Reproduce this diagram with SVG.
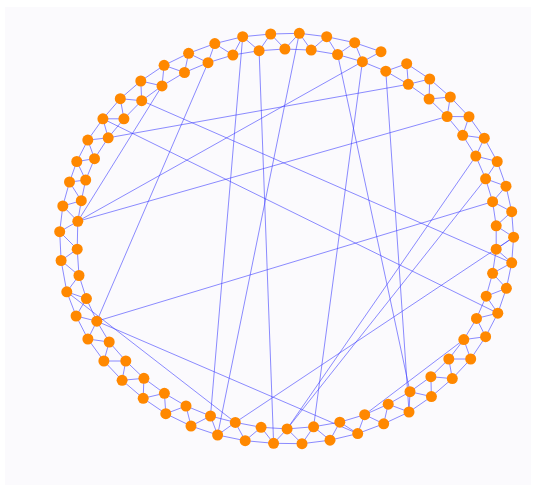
<svg xmlns="http://www.w3.org/2000/svg" width="536" height="487" viewBox="0 0 536 487">
<style>
.bg{fill:#fbfafd}
.e{fill:none;stroke:#3a3aff;stroke-opacity:0.65;stroke-width:0.9;stroke-linejoin:round}
.n{fill:#ff8800}
</style>
<rect width="536" height="487" fill="#ffffff"/>
<rect class="bg" x="5" y="7" width="526" height="478"/>
<g id="connectors">
<path id="outer-ring" class="e" d="M406.7,63.7 L429.7,79 L450.3,97 L469,116.7 L484.3,138.2 L497.2,161.5 L506,186.2 L511.7,211.7 L513.6,237.2 L511.7,262.8 L506.4,288.3 L497.8,313.2 L485.6,336.7 L470.7,359 L452.3,378.6 L431.4,396.6 L409,412 L383.7,423.8 L357.7,433.6 L330,440.2 L302,443.7 L273.6,443.3 L245.2,440.7 L217.6,435 L191,426 L165.8,413.7 L143.2,398.3 L122.1,380.3 L103.9,361 L87.9,339 L76.1,316 L66.8,291.8 L61.1,260.5 L59.7,231.7 L62.8,206 L69.5,182 L76.8,161.5 L87.8,140.1 L102.9,118.8 L120.3,98.7 L140.8,81 L164.1,65.3 L188.6,53.3 L214.8,43.6 L242.7,36.7 L270.7,34 L299.3,33.3 L326.7,36.7 L354.7,42.7 L381,51.7"/>
<path id="inner-ring" class="e" d="M232.9,55 L259.1,50.7 L284.9,49 L311.2,50.1 L337.6,54.5 L362.4,61.7 L385.8,71.2 L408.3,84.3 L429.1,99 L447.1,116.5 L462.7,135.3 L475.8,156.1 L485.6,178.8 L492.6,201.7 L496.2,225.8 L496.2,249.2 L492.6,273.3 L486.2,296.2 L476.5,318.4 L463.8,339.6 L448.8,359 L430.9,376.7 L410,391.7 L388.2,404.2 L364.7,414.7 L339.8,422.2 L313.6,426.8 L287.1,428.9 L261.1,427.3 L235.3,422.4 L210.5,416 L186,406 L164.4,393.3 L143.9,378.3 L125.8,361 L109.2,342 L96.8,321.2 L86.4,298.6 L79,275.5 L77.2,249.2 L77.8,221.3 L81.3,200.7 L85.7,180 L94.5,158.7 L108.2,137.8 L123.9,118.8 L141.7,100.7 L162,85.9 L184.5,72.5 L208,62.7 Z"/>
<path id="zigzag" class="e" d="M385.8,71.2 L406.7,63.7 L408.3,84.3 L429.7,79 L429.1,99 L450.3,97 L447.1,116.5 L469,116.7 L462.7,135.3 L484.3,138.2 L475.8,156.1 L497.2,161.5 L485.6,178.8 L506,186.2 L492.6,201.7 L511.7,211.7 L496.2,225.8 L513.6,237.2 L496.2,249.2 L511.7,262.8 L492.6,273.3 L506.4,288.3 L486.2,296.2 L497.8,313.2 L476.5,318.4 L485.6,336.7 L463.8,339.6 L470.7,359 L448.8,359 L452.3,378.6 L430.9,376.7 L431.4,396.6 L410,391.7 L409,412 L388.2,404.2 L383.7,423.8 L364.7,414.7 L357.7,433.6 L339.8,422.2 L330,440.2 L313.6,426.8 L302,443.7 L287.1,428.9 L273.6,443.3 L261.1,427.3 L245.2,440.7 L235.3,422.4 L217.6,435 L210.5,416 L191,426 L186,406 L165.8,413.7 L164.4,393.3 L143.2,398.3 L143.9,378.3 L122.1,380.3 L125.8,361 L103.9,361 L109.2,342 L87.9,339 L96.8,321.2 L76.1,316 L86.4,298.6 L66.8,291.8 L79,275.5 L61.1,260.5 L77.2,249.2 L59.7,231.7 L77.8,221.3 L62.8,206 L81.3,200.7 L69.5,182 L85.7,180 L76.8,161.5 L94.5,158.7 L87.8,140.1 L108.2,137.8 L102.9,118.8 L123.9,118.8 L120.3,98.7 L141.7,100.7 L140.8,81 L162,85.9 L164.1,65.3 L184.5,72.5 L188.6,53.3 L208,62.7 L214.8,43.6 L232.9,55 L242.7,36.7 L259.1,50.7 L270.7,34 L284.9,49 L299.3,33.3 L311.2,50.1 L326.7,36.7 L337.6,54.5 L354.7,42.7 L362.4,61.7 L381,51.7"/>
<g class="e">
<line x1="242.7" y1="36.7" x2="210.5" y2="416"/>
<line x1="259.1" y1="50.7" x2="273.6" y2="443.3"/>
<line x1="299.3" y1="33.3" x2="217.6" y2="435"/>
<line x1="337.6" y1="54.5" x2="410" y2="391.7"/>
<line x1="362.4" y1="61.7" x2="313.6" y2="426.8"/>
<line x1="385.8" y1="71.2" x2="409" y2="412"/>
<line x1="408.3" y1="84.3" x2="108.2" y2="137.8"/>
<line x1="77.8" y1="221.3" x2="362.4" y2="61.7"/>
<line x1="77.8" y1="221.3" x2="447.1" y2="116.5"/>
<line x1="77.8" y1="221.3" x2="162" y2="85.9"/>
<line x1="141.7" y1="100.7" x2="511.7" y2="262.8"/>
<line x1="102.9" y1="118.8" x2="497.8" y2="313.2"/>
<line x1="208" y1="62.7" x2="96.8" y2="321.2"/>
<line x1="96.8" y1="321.2" x2="492.6" y2="201.7"/>
<line x1="96.8" y1="321.2" x2="357.7" y2="433.6"/>
<line x1="66.8" y1="291.8" x2="235.3" y2="422.4"/>
<line x1="235.3" y1="422.4" x2="513.6" y2="237.2"/>
<line x1="287.1" y1="428.9" x2="475.8" y2="156.1"/>
<line x1="287.1" y1="428.9" x2="485.6" y2="178.8"/>
<line x1="364.7" y1="414.7" x2="463.8" y2="339.6"/>
</g>
</g>
<g id="nodes" class="n">
<circle id="o1" cx="242.7" cy="36.7" r="5.5"/><circle id="o2" cx="270.7" cy="34" r="5.5"/><circle id="o3" cx="299.3" cy="33.3" r="5.5"/><circle id="o4" cx="326.7" cy="36.7" r="5.5"/><circle id="o5" cx="354.7" cy="42.7" r="5.5"/><circle id="o6" cx="381" cy="51.7" r="5.5"/><circle id="o7" cx="406.7" cy="63.7" r="5.5"/><circle id="o8" cx="429.7" cy="79" r="5.5"/><circle id="o9" cx="450.3" cy="97" r="5.5"/><circle id="o10" cx="469" cy="116.7" r="5.5"/>
<circle id="o11" cx="484.3" cy="138.2" r="5.5"/><circle id="o12" cx="497.2" cy="161.5" r="5.5"/><circle id="o13" cx="506" cy="186.2" r="5.5"/><circle id="o14" cx="511.7" cy="211.7" r="5.5"/><circle id="o15" cx="513.6" cy="237.2" r="5.5"/><circle id="o16" cx="511.7" cy="262.8" r="5.5"/><circle id="o17" cx="506.4" cy="288.3" r="5.5"/><circle id="o18" cx="497.8" cy="313.2" r="5.5"/><circle id="o19" cx="485.6" cy="336.7" r="5.5"/><circle id="o20" cx="470.7" cy="359" r="5.5"/>
<circle id="o21" cx="452.3" cy="378.6" r="5.5"/><circle id="o22" cx="431.4" cy="396.6" r="5.5"/><circle id="o23" cx="409" cy="412" r="5.5"/><circle id="o24" cx="383.7" cy="423.8" r="5.5"/><circle id="o25" cx="357.7" cy="433.6" r="5.5"/><circle id="o26" cx="330" cy="440.2" r="5.5"/><circle id="o27" cx="302" cy="443.7" r="5.5"/><circle id="o28" cx="273.6" cy="443.3" r="5.5"/><circle id="o29" cx="245.2" cy="440.7" r="5.5"/><circle id="o30" cx="217.6" cy="435" r="5.5"/>
<circle id="o31" cx="191" cy="426" r="5.5"/><circle id="o32" cx="165.8" cy="413.7" r="5.5"/><circle id="o33" cx="143.2" cy="398.3" r="5.5"/><circle id="o34" cx="122.1" cy="380.3" r="5.5"/><circle id="o35" cx="103.9" cy="361" r="5.5"/><circle id="o36" cx="87.9" cy="339" r="5.5"/><circle id="o37" cx="76.1" cy="316" r="5.5"/><circle id="o38" cx="66.8" cy="291.8" r="5.5"/><circle id="o39" cx="61.1" cy="260.5" r="5.5"/><circle id="o40" cx="59.7" cy="231.7" r="5.5"/>
<circle id="o41" cx="62.8" cy="206" r="5.5"/><circle id="o42" cx="69.5" cy="182" r="5.5"/><circle id="o43" cx="76.8" cy="161.5" r="5.5"/><circle id="o44" cx="87.8" cy="140.1" r="5.5"/><circle id="o45" cx="102.9" cy="118.8" r="5.5"/><circle id="o46" cx="120.3" cy="98.7" r="5.5"/><circle id="o47" cx="140.8" cy="81" r="5.5"/><circle id="o48" cx="164.1" cy="65.3" r="5.5"/><circle id="o49" cx="188.6" cy="53.3" r="5.5"/><circle id="o50" cx="214.8" cy="43.6" r="5.5"/>
<circle id="i1" cx="232.9" cy="55" r="5.5"/><circle id="i2" cx="259.1" cy="50.7" r="5.5"/><circle id="i3" cx="284.9" cy="49" r="5.5"/><circle id="i4" cx="311.2" cy="50.1" r="5.5"/><circle id="i5" cx="337.6" cy="54.5" r="5.5"/><circle id="i6" cx="362.4" cy="61.7" r="5.5"/><circle id="i7" cx="385.8" cy="71.2" r="5.5"/><circle id="i8" cx="408.3" cy="84.3" r="5.5"/><circle id="i9" cx="429.1" cy="99" r="5.5"/><circle id="i10" cx="447.1" cy="116.5" r="5.5"/>
<circle id="i11" cx="462.7" cy="135.3" r="5.5"/><circle id="i12" cx="475.8" cy="156.1" r="5.5"/><circle id="i13" cx="485.6" cy="178.8" r="5.5"/><circle id="i14" cx="492.6" cy="201.7" r="5.5"/><circle id="i15" cx="496.2" cy="225.8" r="5.5"/><circle id="i16" cx="496.2" cy="249.2" r="5.5"/><circle id="i17" cx="492.6" cy="273.3" r="5.5"/><circle id="i18" cx="486.2" cy="296.2" r="5.5"/><circle id="i19" cx="476.5" cy="318.4" r="5.5"/><circle id="i20" cx="463.8" cy="339.6" r="5.5"/>
<circle id="i21" cx="448.8" cy="359" r="5.5"/><circle id="i22" cx="430.9" cy="376.7" r="5.5"/><circle id="i23" cx="410" cy="391.7" r="5.5"/><circle id="i24" cx="388.2" cy="404.2" r="5.5"/><circle id="i25" cx="364.7" cy="414.7" r="5.5"/><circle id="i26" cx="339.8" cy="422.2" r="5.5"/><circle id="i27" cx="313.6" cy="426.8" r="5.5"/><circle id="i28" cx="287.1" cy="428.9" r="5.5"/><circle id="i29" cx="261.1" cy="427.3" r="5.5"/><circle id="i30" cx="235.3" cy="422.4" r="5.5"/>
<circle id="i31" cx="210.5" cy="416" r="5.5"/><circle id="i32" cx="186" cy="406" r="5.5"/><circle id="i33" cx="164.4" cy="393.3" r="5.5"/><circle id="i34" cx="143.9" cy="378.3" r="5.5"/><circle id="i35" cx="125.8" cy="361" r="5.5"/><circle id="i36" cx="109.2" cy="342" r="5.5"/><circle id="i37" cx="96.8" cy="321.2" r="5.5"/><circle id="i38" cx="86.4" cy="298.6" r="5.5"/><circle id="i39" cx="79" cy="275.5" r="5.5"/><circle id="i40" cx="77.2" cy="249.2" r="5.5"/>
<circle id="i41" cx="77.8" cy="221.3" r="5.5"/><circle id="i42" cx="81.3" cy="200.7" r="5.5"/><circle id="i43" cx="85.7" cy="180" r="5.5"/><circle id="i44" cx="94.5" cy="158.7" r="5.5"/><circle id="i45" cx="108.2" cy="137.8" r="5.5"/><circle id="i46" cx="123.9" cy="118.8" r="5.5"/><circle id="i47" cx="141.7" cy="100.7" r="5.5"/><circle id="i48" cx="162" cy="85.9" r="5.5"/><circle id="i49" cx="184.5" cy="72.5" r="5.5"/><circle id="i50" cx="208" cy="62.7" r="5.5"/>
</g>
</svg>
